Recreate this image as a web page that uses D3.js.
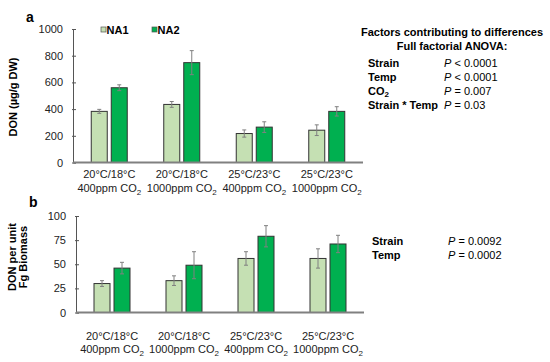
<!DOCTYPE html>
<html>
<head>
<meta charset="utf-8">
<script src="https://cdn.jsdelivr.net/npm/d3@7"></script>
<style>
  body { margin: 0; background: #fff; }
  svg { font-family: 'Liberation Sans', Arial, sans-serif; }
</style>
</head>
<body>
<div id="chart"></div>
<script>
// categories (line 1 / line 2 of each label)
const tempLabels = ['20°C/18°C', '20°C/18°C', '25°C/23°C', '25°C/23°C'];
const co2Labels = ['400ppm', '1000ppm', '400ppm', '1000ppm'];
const series = ['NA1', 'NA2'];

// panel a: DON (ug/g DW)
const donNA1 = [383, 435, 217, 242];
const donNA2 = [560, 748, 265, 383];
const donErrNA1 = [15, 22, 27, 40];
const donErrNA2 = [22, 90, 40, 35];
const donTicks = [0, 200, 400, 600, 800, 1000];

// panel b: DON per unit Fg biomass
const bioNA1 = [30, 33, 56, 56];
const bioNA2 = [46, 49, 79, 71];
const bioErrNA1 = [3, 5, 7, 10];
const bioErrNA2 = [6, 14, 11, 9];
const bioTicks = [0, 25, 50, 75, 100];

const statsA = [
  ['Strain', '< 0.0001'],
  ['Temp', '< 0.0001'],
  ['CO2', '= 0.007'],
  ['Strain * Temp', '= 0.03']
];
const statsB = [
  ['Strain', '= 0.0092'],
  ['Temp', '= 0.0002']
];

var colors = { NA1: '#c5e0b3', NA2: '#00b050' };

var svg = d3.select('#chart')
  .append('svg')
  .attr('width', 550)
  .attr('height', 362);

function drawPanel(opts) {
  var g = svg.append('g');
  var x0 = d3.scaleBand()
    .domain(d3.range(4))
    .range([opts.left, opts.right]);
  var x1 = d3.scaleBand()
    .domain(series)
    .range([-18, 18])
    .paddingInner(0.2);
  var y = d3.scaleLinear()
    .domain([0, opts.max])
    .range([opts.bottom, opts.top]);

  // y axis
  var yAxis = d3.axisRight(y)
    .tickValues(opts.ticks)
    .tickSize(3)
    .tickFormat(d3.format('d'));
  var ya = g.append('g')
    .attr('transform', 'translate(' + opts.left + ',0)')
    .call(yAxis);
  ya.select('.domain').attr('stroke', '#555').attr('stroke-width', 1);
  ya.selectAll('.tick line').attr('stroke', '#555').attr('x1', -1);
  ya.selectAll('.tick text')
    .attr('x', -10)
    .attr('text-anchor', 'end')
    .attr('font-size', 11)
    .attr('fill', '#222');

  var data = [];
  for (var i = 0; i < 4; i++) {
    data.push({ i: i, s: 'NA1', v: opts.na1[i], e: opts.err1[i] });
    data.push({ i: i, s: 'NA2', v: opts.na2[i], e: opts.err2[i] });
  }

  var bar = g.selectAll('.bar')
    .data(data)
    .enter()
    .append('g')
    .attr('class', 'bar')
    .attr('transform', function(d) {
      return 'translate(' + (x0(d.i) + x0.bandwidth() / 2 + x1(d.s)) + ',0)';
    });

  bar.append('rect')
    .attr('x', 0)
    .attr('width', x1.bandwidth())
    .attr('y', function(d) { return y(d.v); })
    .attr('height', function(d) { return y(0) - y(d.v); })
    .attr('fill', function(d) { return colors[d.s]; })
    .attr('stroke', '#333')
    .attr('stroke-width', 1);

  // error bars
  var cx = x1.bandwidth() / 2;
  bar.append('line')
    .attr('x1', cx).attr('x2', cx)
    .attr('y1', function(d) { return y(d.v + d.e); })
    .attr('y2', function(d) { return y(d.v - d.e); })
    .attr('stroke', '#808080').attr('stroke-width', 1);
  bar.append('line')
    .attr('x1', cx - 2).attr('x2', cx + 2)
    .attr('y1', function(d) { return y(d.v + d.e); })
    .attr('y2', function(d) { return y(d.v + d.e); })
    .attr('stroke', '#808080').attr('stroke-width', 1);
  bar.append('line')
    .attr('x1', cx - 2).attr('x2', cx + 2)
    .attr('y1', function(d) { return y(d.v - d.e); })
    .attr('y2', function(d) { return y(d.v - d.e); })
    .attr('stroke', '#808080').attr('stroke-width', 1);

  // x axis line
  g.append('line')
    .attr('x1', opts.left).attr('x2', opts.right)
    .attr('y1', y(0)).attr('y2', y(0))
    .attr('stroke', '#808080').attr('stroke-width', 2);

  // category labels
  var lab = g.selectAll('.cat')
    .data(d3.range(4))
    .enter()
    .append('g')
    .attr('class', 'cat')
    .attr('transform', function(d) {
      return 'translate(' + (x0(d) + x0.bandwidth() / 2) + ',0)';
    });
  lab.append('text')
    .attr('y', opts.labY1)
    .attr('text-anchor', 'middle')
    .attr('font-size', 11)
    .attr('fill', '#222')
    .text(function(d) { return tempLabels[d]; });
  var t2 = lab.append('text')
    .attr('y', opts.labY2)
    .attr('text-anchor', 'middle')
    .attr('font-size', 11)
    .attr('fill', '#222');
  t2.append('tspan').text(function(d) { return co2Labels[d] + ' CO'; });
  t2.append('tspan')
    .attr('dy', 3)
    .attr('font-size', 8)
    .text('2');

  return y;
}

drawPanel({
  left: 73, right: 363, top: 29, bottom: 162.5, max: 1000,
  ticks: donTicks, na1: donNA1, na2: donNA2, err1: donErrNA1, err2: donErrNA2,
  labY1: 178, labY2: 192
});

drawPanel({
  left: 76, right: 364, top: 216, bottom: 312.5, max: 100,
  ticks: bioTicks, na1: bioNA1, na2: bioNA2, err1: bioErrNA1, err2: bioErrNA2,
  labY1: 339.5, labY2: 353
});

// panel letters
svg.append('text').attr('x', 26).attr('y', 22)
  .attr('font-size', 14).attr('font-weight', 'bold').text('a');
svg.append('text').attr('x', 29).attr('y', 207)
  .attr('font-size', 14).attr('font-weight', 'bold').text('b');

// y titles
svg.append('text')
  .attr('transform', 'translate(17,97) rotate(-90)')
  .attr('text-anchor', 'middle')
  .attr('font-size', 11).attr('font-weight', 'bold')
  .text('DON (µg/g DW)');
svg.append('text')
  .attr('transform', 'translate(16,257) rotate(-90)')
  .attr('text-anchor', 'middle')
  .attr('font-size', 11).attr('font-weight', 'bold')
  .text('DON per unit');
svg.append('text')
  .attr('transform', 'translate(27,257) rotate(-90)')
  .attr('text-anchor', 'middle')
  .attr('font-size', 11).attr('font-weight', 'bold')
  .text('Fg Biomass');

// legend
var legend = svg.selectAll('.legend')
  .data(series)
  .enter()
  .append('g')
  .attr('class', 'legend')
  .attr('transform', function(d, i) {
    return 'translate(' + (101 + i * 51) + ',30)';
  });
legend.append('rect')
  .attr('x', 0).attr('y', -3)
  .attr('width', 5).attr('height', 5)
  .attr('fill', function(d) { return colors[d]; })
  .attr('stroke', '#555').attr('stroke-width', 0.7);
legend.append('text')
  .attr('x', 5.5).attr('y', 4)
  .attr('font-size', 11).attr('font-weight', 'bold')
  .text(function(d) { return d; });

// stats text, panel a
svg.append('text').attr('x', 452).attr('y', 36)
  .attr('text-anchor', 'middle').attr('font-size', 11).attr('font-weight', 'bold')
  .text('Factors contributing to differences');
svg.append('text').attr('x', 452).attr('y', 50)
  .attr('text-anchor', 'middle').attr('font-size', 11).attr('font-weight', 'bold')
  .text('Full factorial ANOVA:');

function statRows(rows, xName, xP, y0, step) {
  rows.forEach(function(r, i) {
    var t = svg.append('text').attr('x', xName).attr('y', y0 + i * step)
      .attr('font-size', 11).attr('font-weight', 'bold');
    if (r[0] === 'CO2') {
      t.append('tspan').text('CO');
      t.append('tspan').attr('font-size', 8).attr('dy', 2).text('2');
    } else {
      t.text(r[0]);
    }
    var p = svg.append('text').attr('x', xP).attr('y', y0 + i * step)
      .attr('font-size', 11);
    p.append('tspan').attr('font-style', 'italic').text('P');
    p.append('tspan').text(' ' + r[1]);
  });
}
statRows(statsA, 368, 444, 67, 14);
statRows(statsB, 372, 448, 245, 13.5);
</script>
</body>
</html>
